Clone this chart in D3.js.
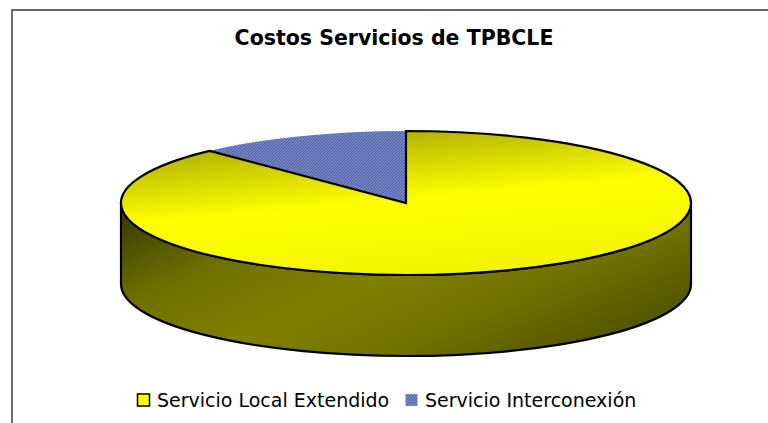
<!DOCTYPE html>
<html>
<head>
<meta charset="utf-8">
<script src="https://cdn.jsdelivr.net/npm/d3@7"></script>
<style>
  html, body { margin: 0; padding: 0; background: #fff; }
  #chart svg { display: block; }
</style>
</head>
<body>
<div id="chart"></div>
<script>
// Costos Servicios de TPBCLE – torta 3D (2 porciones)
const TITLE = "Costos Servicios de TPBCLE";
const categories = ["Servicio Local Extendido", "Servicio Interconexión"];
const values = [87.9, 12.1];

const width = 768, height = 423;
const cx = 406, cy = 203;      // centro de la cara superior
const rx = 285, ry = 72;       // radios de la elipse
const depth = 81;              // alto del cilindro

const svg = d3.select("#chart").append("svg")
  .attr("width", width).attr("height", height);

const defs = svg.append("defs");

// gradiente cara superior (amarillo)
const gTop = defs.append("linearGradient").attr("id", "gTop")
  .attr("x1", "0.1").attr("y1", "0").attr("x2", "0.45").attr("y2", "1");
gTop.append("stop").attr("offset", "0").attr("stop-color", "#9c9c00");
gTop.append("stop").attr("offset", "0.55").attr("stop-color", "#ffff00");
gTop.append("stop").attr("offset", "1").attr("stop-color", "#f4f400");

// gradiente lateral (oliva)
const gSide = defs.append("linearGradient").attr("id", "gSide")
  .attr("x1", "0").attr("y1", "0").attr("x2", "1").attr("y2", "0.6");
gSide.append("stop").attr("offset", "0").attr("stop-color", "#353500");
gSide.append("stop").attr("offset", "0.3").attr("stop-color", "#707000");
gSide.append("stop").attr("offset", "0.55").attr("stop-color", "#808000");
gSide.append("stop").attr("offset", "0.8").attr("stop-color", "#707000");
gSide.append("stop").attr("offset", "1").attr("stop-color", "#575700");

// trama azul
const pat = defs.append("pattern").attr("id", "hatch")
  .attr("patternUnits", "userSpaceOnUse").attr("width", 3).attr("height", 3);
pat.append("rect").attr("width", 3).attr("height", 3).attr("fill", "#9aa6d8");
pat.append("path").attr("d", "M0,3 L3,0 M-1,1 L1,-1 M2,4 L4,2")
  .attr("stroke", "#4c5ea8").attr("stroke-width", 1.3);

const fills = ["url(#gTop)", "url(#hatch)"];

// borde del área del gráfico
svg.append("rect")
  .attr("x", 12).attr("y", 10).attr("width", width + 20).attr("height", height + 20)
  .attr("fill", "none").attr("stroke", "#3a3a3a").attr("stroke-width", 1.5);

svg.append("text")
  .attr("x", 394).attr("y", 45)
  .attr("text-anchor", "middle")
  .attr("font-family", "DejaVu Sans, Verdana, sans-serif")
  .attr("font-weight", "bold").attr("font-size", 20.5)
  .attr("fill", "#000")
  .text(TITLE);

const pie = d3.pie().sort(null).value(d => d);
const arcs = pie(values);

const pt = (a, dy = 0) => [cx + rx * Math.sin(a), cy - ry * Math.cos(a) + dy];

// pared frontal: parte de cada porción entre PI/2 y 3PI/2
const side = svg.append("g");
arcs.forEach((d, i) => {
  const a0 = Math.max(d.startAngle, Math.PI / 2);
  const a1 = Math.min(d.endAngle, 3 * Math.PI / 2);
  if (a1 <= a0) return;
  const p0 = pt(a0), p1 = pt(a1), q1 = pt(a1, depth), q0 = pt(a0, depth);
  const large = (a1 - a0) > Math.PI ? 1 : 0;
  side.append("path")
    .attr("d", `M${p0}A${rx},${ry} 0 ${large} 1 ${p1}L${q1}A${rx},${ry} 0 ${large} 0 ${q0}Z`)
    .attr("fill", i === 0 ? "url(#gSide)" : "#34407a")
    .attr("stroke", "#000").attr("stroke-width", 2.2)
    .attr("stroke-linejoin", "round");
});

// caras superiores: primero la azul (sin borde), luego la amarilla
const topPath = d => {
  const p0 = pt(d.startAngle), p1 = pt(d.endAngle);
  const large = (d.endAngle - d.startAngle) > Math.PI ? 1 : 0;
  return `M${cx},${cy}L${p0}A${rx},${ry} 0 ${large} 1 ${p1}Z`;
};
const tops = svg.append("g");
tops.append("path").attr("d", topPath(arcs[1])).attr("fill", fills[1]);
tops.append("path").attr("d", topPath(arcs[0])).attr("fill", fills[0])
  .attr("stroke", "#000").attr("stroke-width", 2.2).attr("stroke-linejoin", "miter");

// leyenda
const legend = svg.append("g").attr("transform", "translate(137,407)");
const legX = [0, 268];
categories.forEach((c, i) => {
  const g = legend.append("g").attr("transform", `translate(${legX[i]},0)`);
  g.append("rect").attr("x", 0.5).attr("y", -13).attr("width", 12).attr("height", 12)
    .attr("fill", i === 0 ? "#ffff00" : fills[1])
    .attr("stroke", i === 0 ? "#000" : "#c8c8c8")
    .attr("stroke-width", i === 0 ? 1.5 : 1)
    .attr("stroke-dasharray", i === 0 ? null : "1,1");
  g.append("text").attr("x", 20).attr("y", 0)
    .attr("font-family", "DejaVu Sans, Verdana, sans-serif")
    .attr("font-size", 19).attr("fill", "#000")
    .text(c);
});
</script>
</body>
</html>
